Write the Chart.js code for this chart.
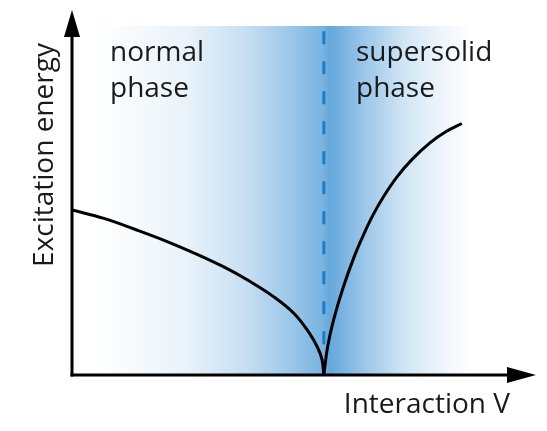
<!DOCTYPE html>
<html>
<head>
<meta charset="utf-8">
<script src="https://cdn.jsdelivr.net/npm/chart.js@4/dist/chart.umd.min.js"></script>
<style>
  html, body { margin: 0; padding: 0; background: #ffffff; }
  #wrap { width: 547px; height: 431px; position: relative; }
</style>
</head>
<body>
<div id="wrap"><canvas id="c" width="547" height="431"></canvas></div>
<script>
const normalV = [0, 0.69, 1.34, 1.99, 2.64, 3.28, 3.82, 4.36, 4.80, 5.12, 5.31, 5.40, 5.44];
const normalE = [4.52, 4.29, 4.00, 3.69, 3.34, 2.96, 2.58, 2.14, 1.68, 1.16, 0.74, 0.42, 0];
const solidV  = [5.44, 5.52, 5.65, 5.86, 6.11, 6.31, 6.50, 6.74, 7.02, 7.34, 7.73, 8.08, 8.42];
const solidE  = [0, 0.77, 1.51, 2.41, 3.29, 3.88, 4.38, 4.91, 5.43, 5.90, 6.36, 6.67, 6.89];
const criticalV = 5.44;
const criticalLineE = [9.42, 0.82];
const xRange = [0, 10];
const yRange = [0, 10];
const phaseLabels = [["normal", "phase"], ["supersolid", "phase"]];
const xTitle = "Interaction V";
const yTitle = "Excitation energy";

const toPts = (xs, ys) => xs.map((x, i) => ({ x: x, y: ys[i] }));

const FONT = '"Open Sans", "Noto Sans", sans-serif';

const decor = {
  id: 'decor',
  beforeDatasetsDraw(chart) {
    const { ctx, scales: { x, y } } = chart;
    const cx = x.getPixelForValue(criticalV);
    const y0 = y.getPixelForValue(0);
    const top = 26;
    const L = cx - 230, R = cx + 150;
    const g = ctx.createLinearGradient(L, 0, R, 0);
    const w = R - L;
    const st = (px, c) => g.addColorStop(Math.min(1, Math.max(0, (px - L) / w)), c);
    st(L, 'rgba(255,255,255,1)');
    st(cx - 190, 'rgb(246,250,253)');
    st(cx - 140, 'rgb(234,243,250)');
    st(cx - 80, 'rgb(200,224,243)');
    st(cx - 35, 'rgb(158,200,233)');
    st(cx - 2, 'rgb(122,180,225)');
    st(cx + 6, 'rgb(100,168,220)');
    st(cx + 40, 'rgb(155,198,233)');
    st(cx + 80, 'rgb(208,229,245)');
    st(cx + 120, 'rgb(240,246,252)');
    st(R, 'rgba(255,255,255,1)');
    ctx.save();
    ctx.fillStyle = g;
    ctx.fillRect(L, top, w, y0 - top);
    ctx.restore();
  },
  afterDatasetsDraw(chart) {
    const { ctx, scales: { x, y } } = chart;
    const ox = x.getPixelForValue(0);
    const oy = y.getPixelForValue(0);
    ctx.save();
    ctx.strokeStyle = '#000';
    ctx.fillStyle = '#000';
    ctx.lineWidth = 3;
    ctx.lineCap = 'butt';
    // y axis
    ctx.beginPath();
    ctx.moveTo(ox, oy + 1.5);
    ctx.lineTo(ox, 34);
    ctx.stroke();
    ctx.beginPath();
    ctx.moveTo(ox, 10);
    ctx.lineTo(ox - 8, 37);
    ctx.lineTo(ox + 8, 37);
    ctx.closePath();
    ctx.fill();
    // x axis
    ctx.beginPath();
    ctx.moveTo(ox - 1.5, oy);
    ctx.lineTo(510, oy);
    ctx.stroke();
    ctx.beginPath();
    ctx.moveTo(536, oy);
    ctx.lineTo(507, oy - 8);
    ctx.lineTo(507, oy + 8);
    ctx.closePath();
    ctx.fill();
    // texts
    ctx.fillStyle = '#1a1a1a';
    ctx.font = '28px ' + FONT;
    ctx.textBaseline = 'alphabetic';
    ctx.textAlign = 'left';
    ctx.fillText(phaseLabels[0][0], 110, 61);
    ctx.fillText(phaseLabels[0][1], 110, 97);
    ctx.fillText(phaseLabels[1][0], 356, 61);
    ctx.fillText(phaseLabels[1][1], 356, 97);
    ctx.textAlign = 'right';
    ctx.fillText(xTitle, 510, 413);
    ctx.save();
    ctx.translate(53, 155);
    ctx.rotate(-Math.PI / 2);
    ctx.textAlign = 'center';
    ctx.fillText(yTitle, 0, 0);
    ctx.restore();
    ctx.restore();
  }
};

new Chart(document.getElementById('c'), {
  type: 'scatter',
  data: {
    datasets: [
      {
        data: [{ x: criticalV, y: criticalLineE[0] }, { x: criticalV, y: criticalLineE[1] }],
        showLine: true, borderColor: '#1f7bc2', borderWidth: 3, borderDash: [13, 17],
        pointRadius: 0, borderCapStyle: 'butt'
      },
      {
        data: toPts(normalV, normalE),
        showLine: true, borderColor: '#000', borderWidth: 3,
        tension: 0.4, pointRadius: 0, borderJoinStyle: 'round'
      },
      {
        data: toPts(solidV, solidE),
        showLine: true, borderColor: '#000', borderWidth: 3,
        tension: 0.4, pointRadius: 0, borderJoinStyle: 'round'
      }
    ]
  },
  options: {
    responsive: false,
    animation: false,
    devicePixelRatio: 1,
    layout: { padding: { left: 72, right: 12, top: 10, bottom: 56 } },
    plugins: { legend: { display: false }, tooltip: { enabled: false } },
    scales: {
      x: { type: 'linear', min: xRange[0], max: xRange[1], display: false },
      y: { type: 'linear', min: yRange[0], max: yRange[1], display: false }
    }
  },
  plugins: [decor]
});
</script>
</body>
</html>
